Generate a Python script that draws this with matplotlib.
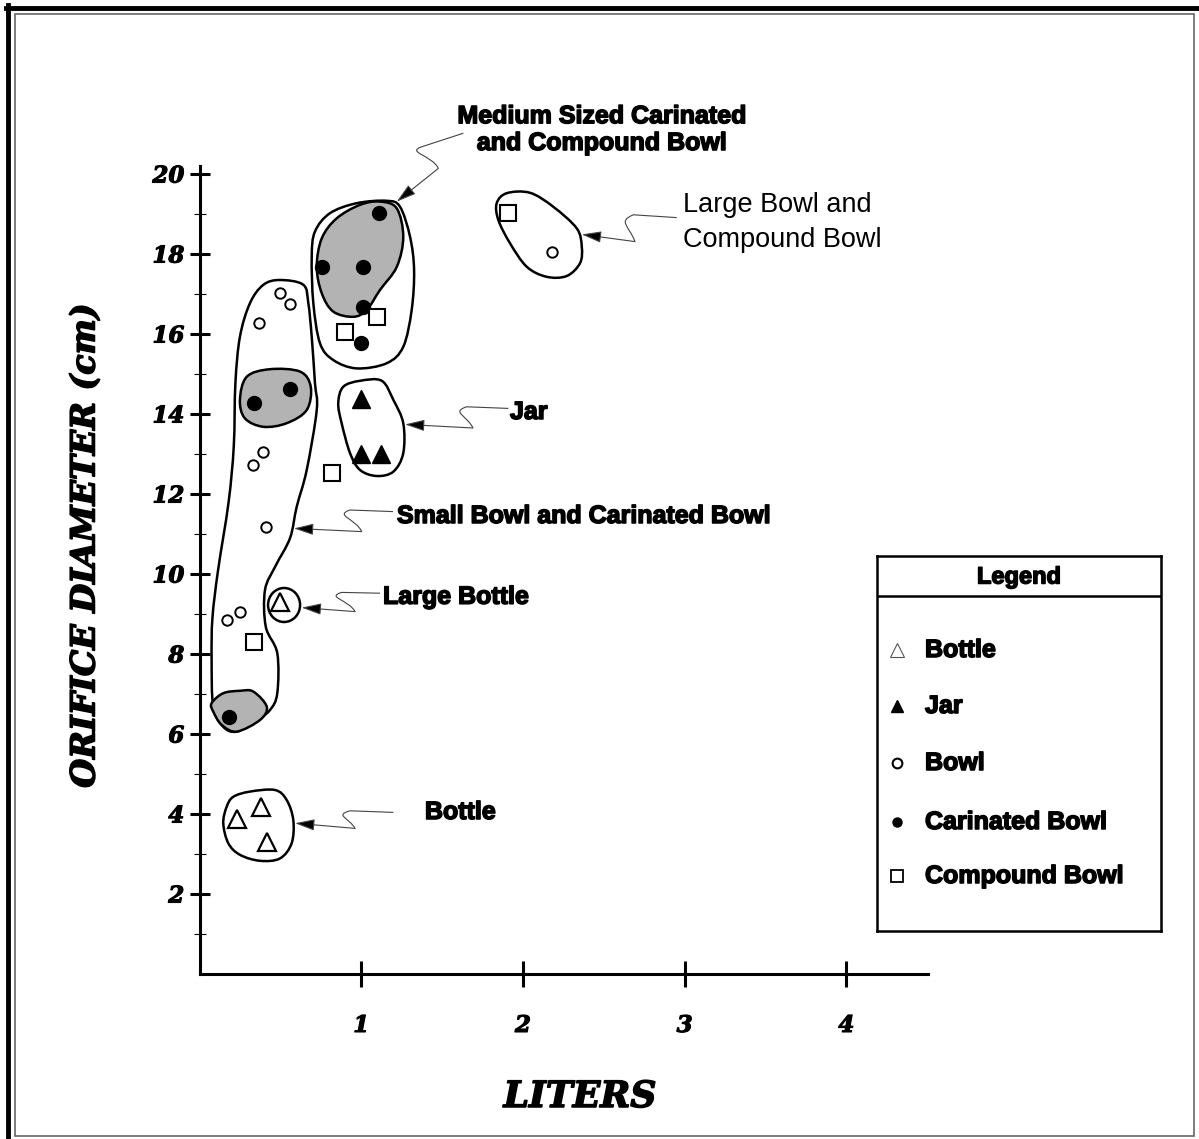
import numpy as np
import matplotlib.pyplot as plt
import matplotlib.patheffects as pe
from matplotlib.path import Path
from matplotlib.patches import PathPatch, Ellipse, FancyArrowPatch, Rectangle
from matplotlib.lines import Line2D

# capacity (liters) and orifice diameter (cm) for each vessel type
bottle_l = [0.50, 0.23, 0.38, 0.42]
bottle_d = [9.30, 3.88, 4.18, 3.30]
jar_l = [1.00, 1.00, 1.12]
jar_d = [14.37, 12.99, 12.99]
bowl_l = [0.50, 0.56, 0.37, 0.39, 0.33, 0.41, 0.25, 0.17, 2.18]
bowl_d = [17.02, 16.75, 16.28, 13.05, 12.73, 11.17, 9.06, 8.85, 18.05]
carinated_l = [1.11, 0.76, 1.01, 1.01, 1.00, 0.56, 0.34, 0.18]
carinated_d = [19.02, 17.68, 17.68, 16.68, 15.77, 14.63, 14.27, 6.42]
compound_l = [1.10, 0.90, 0.82, 0.34, 1.91]
compound_d = [16.43, 16.04, 12.53, 8.30, 19.03]

# hand drawn groupings (liters, cm)
medium_outer = [(1.158, 19.33), (1.240, 19.18), (1.302, 18.43), (1.327, 17.60), (1.312, 16.60),
                (1.260, 15.68), (1.158, 15.27), (0.972, 15.14), (0.827, 15.35), (0.745, 15.77),
                (0.704, 16.77), (0.694, 17.93), (0.714, 18.56), (0.807, 19.02), (0.972, 19.27)]
medium_core = [(1.116, 19.31), (1.220, 19.14), (1.260, 18.43), (1.220, 17.68), (1.116, 17.10),
               (1.034, 16.60), (0.951, 16.43), (0.827, 16.56), (0.756, 17.02), (0.725, 17.68),
               (0.756, 18.39), (0.848, 18.89), (0.993, 19.23)]
small_bowl = [(0.498, 17.35), (0.642, 17.23), (0.673, 16.77), (0.694, 15.93), (0.714, 14.77),
              (0.725, 14.10), (0.663, 12.60), (0.601, 11.68), (0.560, 10.90), (0.470, 10.20),
              (0.405, 9.60), (0.410, 8.68), (0.481, 8.02), (0.481, 7.02), (0.436, 6.60),
              (0.354, 6.35), (0.230, 6.06), (0.147, 6.18), (0.085, 6.68), (0.075, 7.85),
              (0.080, 8.90), (0.115, 10.10), (0.180, 11.80), (0.212, 13.20), (0.222, 14.77),
              (0.250, 15.93), (0.312, 16.77), (0.395, 17.23)]
small_core_mid = [(0.250, 14.35), (0.292, 14.93), (0.436, 15.12), (0.622, 15.06), (0.688, 14.68),
                  (0.663, 14.10), (0.539, 13.77), (0.395, 13.68), (0.281, 13.89)]
small_core_low = [(0.075, 6.77), (0.147, 7.02), (0.250, 7.08), (0.333, 7.06), (0.416, 6.68),
                  (0.374, 6.35), (0.230, 6.06), (0.137, 6.23), (0.085, 6.56)]
jar_group = [(0.889, 14.68), (0.993, 14.83), (1.127, 14.83), (1.199, 14.35), (1.260, 13.77),
             (1.260, 13.02), (1.199, 12.56), (1.096, 12.45), (0.993, 12.60), (0.931, 13.02),
             (0.879, 13.77), (0.858, 14.27)]
large_bowl = [(1.838, 19.27), (1.900, 19.52), (2.044, 19.53), (2.188, 19.18), (2.333, 18.64),
              (2.364, 18.18), (2.353, 17.77), (2.271, 17.45), (2.147, 17.43), (2.024, 17.68),
              (1.920, 18.27), (1.848, 18.85)]
bottle_group = [(0.168, 4.18), (0.209, 4.43), (0.312, 4.56), (0.467, 4.60), (0.539, 4.35),
                (0.580, 3.85), (0.570, 3.27), (0.498, 2.89), (0.374, 2.83), (0.250, 2.98),
                (0.178, 3.27), (0.147, 3.77)]

W, H = 1199, 1139
fig = plt.figure(figsize=(W / 100, H / 100), dpi=100)
fig.patch.set_facecolor('white')

heavy = [pe.withStroke(linewidth=1.1, foreground='black')]

ax = fig.add_axes([199.5 / W, 1 - 974 / H, 728.5 / W, 808 / H])
ax.set_xlim(0, 4.505)
ax.set_ylim(0, 20.2)
ux = 4.505 / 728.5   # liters per pixel

for s in ['top', 'right']:
    ax.spines[s].set_visible(False)
for s in ['left', 'bottom']:
    ax.spines[s].set_linewidth(2.2)

ax.set_xticks([1, 2, 3, 4])
ax.set_yticks(range(2, 21, 2))
ax.set_yticks(range(1, 20, 2), minor=True)
ax.tick_params(axis='x', direction='inout', length=19, width=2.2, pad=20)
ax.tick_params(axis='y', which='major', direction='inout', length=14, width=2.2, pad=4)
ax.tick_params(axis='y', which='minor', direction='inout', length=8, width=0.8)
for lab in ax.get_xticklabels() + ax.get_yticklabels():
    lab.set_fontfamily('DejaVu Serif')
    lab.set_fontweight('bold')
    lab.set_fontstyle('italic')
    lab.set_fontsize(16.5)
    lab.set_path_effects([pe.withStroke(linewidth=0.8, foreground='black')])


def blob(pts):
    p = np.asarray(pts, float)
    n = len(p)
    verts = [p[0]]
    codes = [Path.MOVETO]
    for i in range(n):
        p0, p1, p2, p3 = p[i - 1], p[i], p[(i + 1) % n], p[(i + 2) % n]
        verts += [p1 + (p2 - p0) / 6, p2 - (p3 - p1) / 6, p2]
        codes += [Path.CURVE4] * 3
    verts.append(p[0])
    codes.append(Path.CLOSEPOLY)
    return Path(verts, codes)


for g in [medium_outer, small_bowl, jar_group, large_bowl, bottle_group]:
    ax.add_patch(PathPatch(blob(g), fc='white', ec='black', lw=1.8, zorder=2))
for g in [medium_core, small_core_mid, small_core_low]:
    ax.add_patch(PathPatch(blob(g), fc='#b3b3b3', ec='black', lw=1.8, zorder=3))
ax.add_patch(Ellipse((0.523, 9.225), 0.198, 0.85, fc='white', ec='black', lw=1.8, zorder=2))

ax.plot(bowl_l, bowl_d, 'o', ms=7.5, mfc='white', mec='black', mew=1.4, zorder=5)
ax.plot(carinated_l, carinated_d, 'o', ms=10, mfc='black', mec='black', zorder=5)
ax.plot(compound_l, compound_d, 's', ms=11, mfc='white', mec='black', mew=1.5, zorder=5)
ax.plot(jar_l, jar_d, '^', ms=13, mfc='black', mec='black', zorder=5)
ax.plot(bottle_l, bottle_d, '^', ms=13, mfc='white', mec='black', mew=1.6, zorder=5)


def leader(start, ws, we, tip):
    h = ws[1] - we[1]
    c1 = (ws[0] - 16 * ux, ws[1] - 0.25 * h)
    c2 = (we[0] - 6 * ux, we[1] + 0.6 * h)
    path = Path([start, ws, c1, c2, we],
                [Path.MOVETO, Path.LINETO, Path.CURVE4, Path.CURVE4, Path.CURVE4])
    ax.add_patch(PathPatch(path, fill=False, lw=0.8, ec='#444444', clip_on=False, zorder=6))
    ax.add_patch(FancyArrowPatch(we, tip, arrowstyle='-|>,head_length=1.2,head_width=0.35',
                                 mutation_scale=10, lw=0.8, ec='#444444', fc='black',
                                 shrinkA=0, shrinkB=0, clip_on=False, zorder=6))


leader((1.632, 21.02), (1.374, 20.68), (1.477, 20.14), (1.220, 19.31))
leader((2.951, 18.91), (2.683, 18.98), (2.693, 18.31), (2.364, 18.49))
leader((1.910, 14.14), (1.652, 14.18), (1.691, 13.65), (1.271, 13.74))
leader((1.197, 11.56), (0.931, 11.60), (1.003, 11.06), (0.584, 11.14))
leader((1.116, 9.52), (0.879, 9.54), (0.962, 9.06), (0.632, 9.16))
leader((1.199, 4.04), (0.931, 4.08), (0.962, 3.64), (0.591, 3.77))

bold = dict(family='Liberation Sans', weight='bold', fontsize=18, clip_on=False, zorder=7,
            path_effects=heavy)
ax.text(2.489, 21.11, 'Medium Sized Carinated\nand Compound Bowl', ha='center', va='center',
        linespacing=1.15, **bold)
ax.text(2.990, 18.79, 'Large Bowl and\nCompound Bowl', ha='left', va='center',
        family='Liberation Sans', fontsize=19.5, linespacing=1.45, clip_on=False)
ax.text(1.920, 14.05, 'Jar', ha='left', va='center', **bold)
ax.text(1.221, 11.45, 'Small Bowl and Carinated Bowl', ha='left', va='center', **bold)
ax.text(1.135, 9.43, 'Large Bottle', ha='left', va='center', **bold)
ax.text(1.394, 4.05, 'Bottle', ha='left', va='center', **bold)

# axis titles
serif = dict(family='DejaVu Serif', weight='bold', style='italic', path_effects=heavy)
fig.text(85 / W, 1 - 545 / H, 'ORIFICE DIAMETER (cm)', rotation=90, ha='center', va='center',
         fontsize=24, **serif)
fig.text(580 / W, 1 - 1097 / H, 'LITERS', ha='center', va='center', fontsize=26, **serif)

# legend box
lg = fig.add_axes([877 / W, 1 - 931 / H, 284 / W, 375 / H])
lg.set_xlim(0, 284)
lg.set_ylim(375, 0)
lg.set_xticks([])
lg.set_yticks([])
for s in lg.spines.values():
    s.set_linewidth(1.8)
lg.axhline(40, color='black', lw=1.8)
lg.text(142, 21, 'Legend', ha='center', va='center', family='Liberation Sans',
        weight='bold', fontsize=17, path_effects=heavy)
entries = ['Bottle', 'Jar', 'Bowl', 'Carinated Bowl', 'Compound Bowl']
styles = [dict(marker='^', ms=10, mfc='white', mec='#555555', mew=0.8),
          dict(marker='^', ms=9, mfc='black', mec='black'),
          dict(marker='o', ms=7, mfc='white', mec='black', mew=1.5),
          dict(marker='o', ms=6.5, mfc='black', mec='black'),
          dict(marker='s', ms=9, mfc='white', mec='black', mew=1.3)]
rows = [94, 150, 207, 266, 320]
for name, st, yy in zip(entries, styles, rows):
    lg.plot([20], [yy], ls='none', **st)
    lg.text(48, yy, name, ha='left', va='center', family='Liberation Sans',
            weight='bold', fontsize=18, path_effects=heavy)

# page frame
fig.add_artist(Line2D([8 / W, 8 / W], [0, 1 - 5 / H], color='black', lw=3.5,
                      transform=fig.transFigure))
fig.add_artist(Line2D([6 / W, 1], [1 - 8 / H, 1 - 8 / H], color='black', lw=3.5,
                      transform=fig.transFigure))
fig.add_artist(Rectangle((15 / W, 1 - 1136 / H), 1179 / W, 1122 / H, fill=False,
                         ec='#666666', lw=1.2, transform=fig.transFigure))

fig.savefig('out.png', dpi=100)
